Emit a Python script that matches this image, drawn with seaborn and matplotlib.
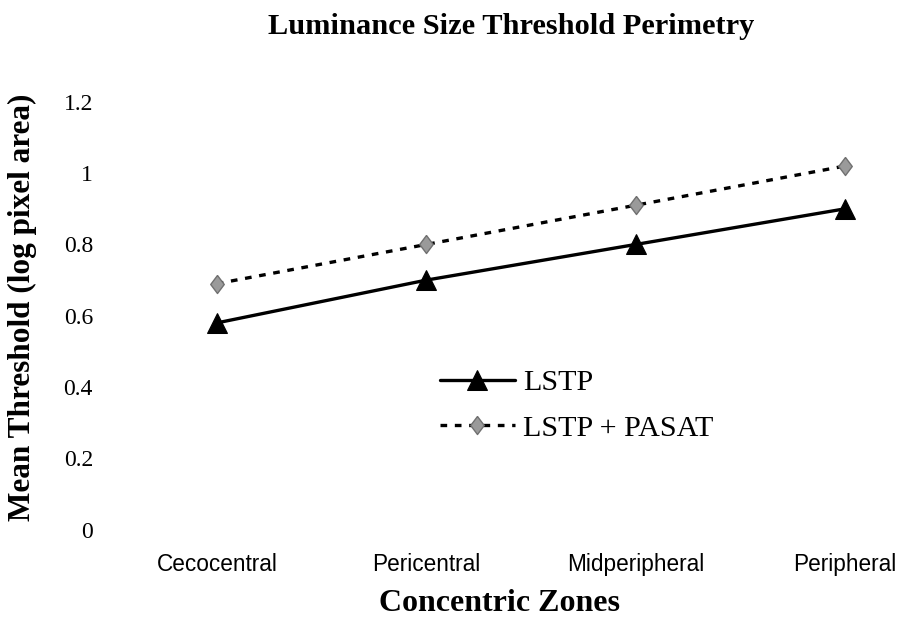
import matplotlib.pyplot as plt
import pandas as pd
import seaborn as sns

zones = ['Cecocentral', 'Pericentral', 'Midperipheral', 'Peripheral']
lstp = [0.58, 0.70, 0.80, 0.90]
lstp_pasat = [0.69, 0.80, 0.91, 1.02]
y_ticks = [0, 0.2, 0.4, 0.6, 0.8, 1, 1.2]
y_tick_labels = ['0', '0.2', '0.4', '0.6', '0.8', '1', '1.2']

df = pd.DataFrame({'Zone': zones * 2,
                   'Threshold': lstp + lstp_pasat,
                   'Series': ['LSTP'] * 4 + ['LSTP + PASAT'] * 4})

sns.set_style("white")
plt.rcParams['text.color'] = 'black'
plt.rcParams['xtick.color'] = 'black'
plt.rcParams['ytick.color'] = 'black'
plt.rcParams['axes.labelcolor'] = 'black'
serif = ['Liberation Serif', 'DejaVu Serif']
sans = ['Liberation Sans', 'DejaVu Sans']

# tall diamond like the Excel marker
diamond = [(0, 1), (0.75, 0), (0, -1), (-0.75, 0), (0, 1)]

fig = plt.figure(figsize=(9.01, 6.21), dpi=100)
ax = fig.add_axes([0.144, 0.147, 0.855, 0.689])

sns.lineplot(data=df[df['Series'] == 'LSTP'], x='Zone', y='Threshold', ax=ax,
             color='black', linewidth=2.4, marker='^', markersize=15,
             markerfacecolor='black', markeredgecolor='black', label='LSTP')
sns.lineplot(data=df[df['Series'] == 'LSTP + PASAT'], x='Zone', y='Threshold', ax=ax,
             color='black', linewidth=2.4, linestyle=(0, (2, 2.3)), marker=diamond,
             markersize=13, markerfacecolor='#9a9a9a', markeredgecolor='#707070',
             markeredgewidth=1, label='LSTP + PASAT')

ax.set_xlim(-0.416, 3.263)
ax.set_ylim(0, 1.2)
ax.set_yticks(y_ticks)
ax.set_yticklabels(y_tick_labels, family=serif, fontsize=17)
ax.set_xticks(range(len(zones)))
ax.set_xticklabels(zones, family=sans, fontsize=16.3)
ax.tick_params(axis='both', length=0)
ax.tick_params(axis='y', pad=26.5)
ax.tick_params(axis='x', pad=17)
for s in ax.spines.values():
    s.set_visible(False)

ax.set_xlabel('Concentric Zones', family=serif, fontsize=23, fontweight='bold')
ax.xaxis.set_label_coords(0.48, -0.139)
ax.set_ylabel('Mean Threshold (log pixel area)', family=serif, fontsize=22.5,
              fontweight='bold')
ax.yaxis.set_label_coords(-0.121, 0.52)
fig.text(0.567, 0.958, 'Luminance Size Threshold Perimetry', family=serif, fontsize=21.9,
         fontweight='bold', ha='center', va='center')

ax.legend(loc='upper left', bbox_to_anchor=(0.458, 0.449), bbox_transform=fig.transFigure,
          frameon=False, prop={'family': serif, 'size': 21.7}, handlelength=2.5,
          handletextpad=0.27, labelspacing=0.61)

fig.savefig('out.png', dpi=100)
